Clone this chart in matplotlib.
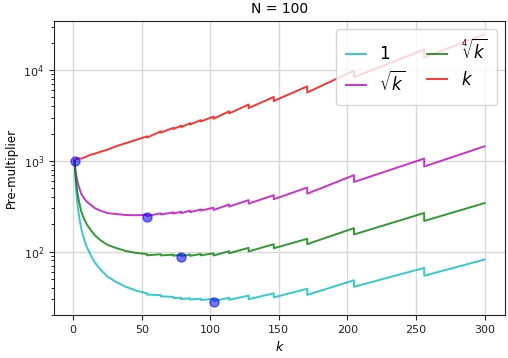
import matplotlib
matplotlib.use("Agg")
import matplotlib.pyplot as plt

# k positions (repeated k = sawtooth drop)
k_vals = [1, 2, 3, 4, 5, 6, 8, 10, 13, 16, 20, 25, 31, 38, 46,
          53.9, 53.9, 64, 64, 73.1, 73.1, 78.8, 78.8, 85.3, 85.3, 93.1, 93.1,
          102.4, 102.4, 113.8, 113.8, 128, 128, 146.3, 146.3, 170.7, 170.7,
          204.8, 204.8, 256, 256, 300]

pm_one = [1000, 520, 350, 265, 212, 176, 136, 112, 90, 75, 63, 53, 46.5, 41, 37,
          34.6, 33.5, 33.0, 32.0, 31.6, 30.7, 30.9, 29.9, 30.5, 29.5, 30.2, 29.2,
          30.0, 28.4, 30.9, 29.3, 32.6, 29.8, 34.6, 31.2, 38.8, 33.2,
          48.2, 40.8, 65.9, 54.0, 81.5]

pm_sqrt = [1000, 735, 606, 530, 474, 431, 385, 354, 325, 300, 282, 265, 259, 253, 251,
           254, 246, 264, 256, 270, 262.5, 274, 265, 282, 272, 291, 282,
           304, 287, 330, 313, 369, 337, 418, 377, 507, 434,
           695, 584, 1058, 865, 1445]

pm_root4 = [1000, 618, 461, 375, 317, 275, 229, 199, 171, 150, 133, 118.5, 109.7, 101.8, 96.3,
            93.8, 90.8, 93.3, 90.5, 92.4, 89.8, 92.1, 89.1, 92.7, 89.6, 93.8, 90.7,
            95.4, 90.3, 100.9, 95.7, 109.7, 100.2, 120.3, 108.5, 138, 120.5,
            181, 154, 266, 217, 342]

pm_k = [1000, 1040, 1050, 1060, 1060, 1056, 1088, 1120, 1170, 1200, 1260, 1325, 1442, 1558, 1702,
        1865, 1806, 2112, 2048, 2310, 2244, 2435, 2356, 2602, 2516, 2812, 2719,
        3072, 2908, 3516, 3334, 4173, 3814, 5062, 4565, 6623, 5667,
        9871, 8360, 16870, 13820, 24800]

# minima markers
min_k = [1, 53.9, 78.8, 102.4]
min_v = [1000, 243, 86, 28]

labels = [r"$1$", r"$\sqrt{k}$", r"$\sqrt[4]{k}$", r"$k$"]
colors = ["c", "m", "g", "r"]

fig = plt.figure(figsize=(5.08, 3.58), dpi=100)
ax = fig.add_axes([54/508, 1-315/358, (505-54)/508, (315-21)/358])

series = [pm_one, pm_sqrt, pm_root4, pm_k]
for vals, lab, col in zip(series, labels, colors):
    ax.plot(k_vals, vals, color=col, lw=1.4, alpha=0.8, label=lab)

ax.plot(min_k, min_v, "o", color="blue", ms=6.5, alpha=0.55, zorder=5)

ax.set_yscale("log")
ax.set_xticks([0, 50, 100, 150, 200, 250, 300])
ax.grid(True, which="major", color="#d8d8d8", lw=1)
ax.set_axisbelow(True)
ax.tick_params(labelsize=8, length=3.5, colors="#222222")
ax.tick_params(which="minor", length=2)
ax.set_title("N = 100", fontsize=10, pad=6)
ax.set_xlabel(r"$k$", fontsize=9)
ax.set_ylabel("Pre-multiplier", fontsize=8.5)
for s in ax.spines.values():
    s.set_color("#222222")

ax.legend(loc="upper right", ncol=2, fontsize=12, framealpha=0.8,
          handlelength=1.2, labelspacing=0.45, columnspacing=1.3,
          borderpad=0.6, edgecolor="#cccccc")

fig.savefig("out.png", dpi=100)
